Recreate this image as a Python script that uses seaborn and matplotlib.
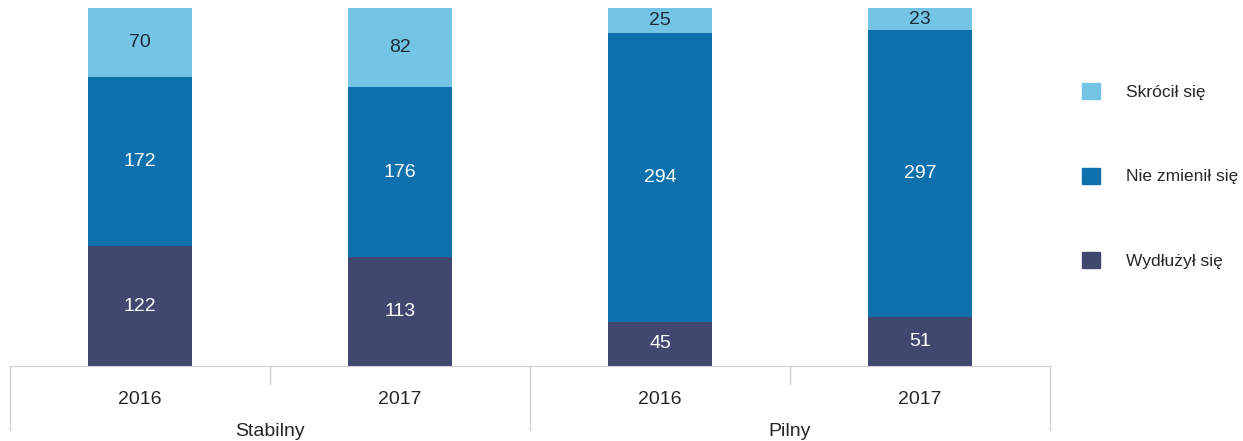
import matplotlib
matplotlib.use('Agg')
import matplotlib.pyplot as plt
import matplotlib.patches as mpatches
import seaborn as sns
import pandas as pd

groups = ['Stabilny', 'Stabilny', 'Pilny', 'Pilny']
years = ['2016', '2017', '2016', '2017']
wydluzyl = [122, 113, 45, 51]
nie_zmienil = [172, 176, 294, 297]
skrocil = [70, 82, 25, 23]

series_names = ['Wydłużył się', 'Nie zmienił się', 'Skrócił się']
colors = ['#404870', '#0e70ad', '#74c5e5']
text_colors = ['white', 'white', '#1f2a3a']

sns.set_style('white')
plt.rcParams['font.family'] = ['Liberation Sans Narrow', 'Liberation Sans', 'DejaVu Sans']

df = pd.DataFrame({'grupa': groups, 'rok': years,
                   'Wydłużył się': wydluzyl,
                   'Nie zmienił się': nie_zmienil,
                   'Skrócił się': skrocil})
df['kat'] = [f'{g}\n{y}' for g, y in zip(groups, years)]
total = df[series_names].sum(axis=1)
cum = df[series_names].cumsum(axis=1).div(total, axis=0)

fig = plt.figure(figsize=(12.43, 4.41), dpi=100)
ax = fig.add_axes([10 / 1243, 1 - 366 / 441, 1040 / 1243, 358 / 441])

# draw stacked shares from the top down so lower segments cover upper ones
for name, col in reversed(list(zip(series_names, colors))):
    sns.barplot(x=df['kat'], y=cum[name], color=col, width=0.4,
                saturation=1, linewidth=0, ax=ax, order=list(df['kat']))

for i in range(len(df)):
    lower = 0
    for name, tc in zip(series_names, text_colors):
        upper = cum[name].iloc[i]
        ax.text(i, (lower + upper) / 2, str(df[name].iloc[i]), ha='center', va='center',
                color=tc, fontsize=14)
        lower = upper

ax.set_xlim(-0.5, 3.5)
ax.set_ylim(0, 1)
ax.set_xticks([])
ax.set_yticks([])
ax.set_xlabel('')
ax.set_ylabel('')
for s in ['top', 'left', 'right']:
    ax.spines[s].set_visible(False)
ax.spines['bottom'].set_color('#d0d0d0')

# two-level category axis below the plot
trans = ax.get_xaxis_transform()
px = 1 / 358
for xb in [-0.5, 1.5, 3.5]:
    ax.plot([xb, xb], [0, -64 * px], color='#d0d0d0', lw=1, transform=trans, clip_on=False)
for xb in [0.5, 2.5]:
    ax.plot([xb, xb], [0, -18 * px], color='#d0d0d0', lw=1, transform=trans, clip_on=False)
for i, y in enumerate(years):
    ax.text(i, -34 * px, y, ha='center', va='center', fontsize=14, transform=trans)
for i, g in [(0.5, 'Stabilny'), (2.5, 'Pilny')]:
    ax.text(i, -66 * px, g, ha='center', va='center', fontsize=14, transform=trans)

handles = [mpatches.Patch(color=c, label=n) for n, c in zip(series_names, colors)][::-1]
fig.legend(handles=handles, loc='center left', bbox_to_anchor=(1082 / 1243, 1 - 176 / 441),
           frameon=False, fontsize=12.5, handlelength=1.05, handleheight=1.05,
           handletextpad=1.5, labelspacing=3.9, borderpad=0, borderaxespad=0)

fig.savefig('out.png', dpi=100)
